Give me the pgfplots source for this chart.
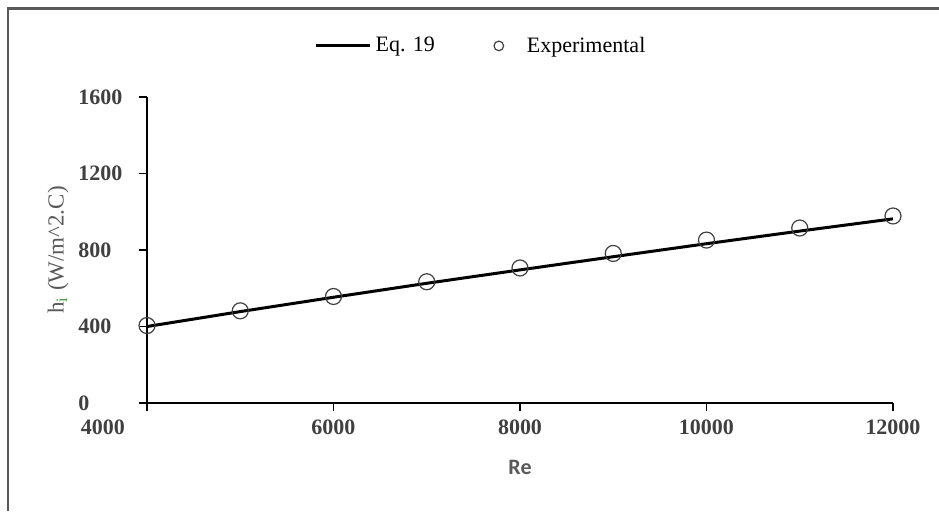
\documentclass[border=0pt]{standalone}
\usepackage{pgfplots}
\pgfplotsset{compat=1.18}
\usepackage{fontspec}
\setmainfont{Liberation Serif}
\newfontfamily\carlito{Carlito}
\definecolor{lblgray}{HTML}{595959}
\definecolor{tickgray}{HTML}{404040}
\definecolor{framegray}{HTML}{5A5A5A}
\definecolor{subgreen}{HTML}{3A9A3A}
\pgfplotsset{
    lineleg/.style={legend image code/.code={\draw[##1] (0pt,0pt) -- (27pt,0pt);}},
    markleg/.style={legend image code/.code={\path[draw=none, fill=none] (0pt,0pt) -- (18pt,0pt);
        \draw[##1, mark size=2.4pt] plot coordinates {(6pt,0pt)};}},
}
\tikzset{
    ylab/.style={anchor=west, inner sep=0pt, xshift=-34.5pt,
        font=\fontsize{11}{12}\selectfont\bfseries, text=tickgray},
}

\begin{document}
\begin{tikzpicture}
% 1 px of the reference = 0.5pt
\useasboundingbox (0,0) rectangle (469.5pt,-255.5pt);
\draw[framegray, line width=1.2pt] (4pt,-255.5pt) -- (4pt,-4.2pt) -- (469.5pt,-4.2pt);
\begin{axis}[
    at={(73.5pt,-201.5pt)}, anchor=south west,
    scale only axis, width=373pt, height=153pt,
    xmin=4000, xmax=12000, ymin=0, ymax=1600,
    axis lines=left,
    axis line style={-, black, line width=0.7pt},
    tick align=outside, tick style={black, line width=0.6pt},
    major tick length=4pt,
    scaled x ticks=false, scaled y ticks=false,
    xtick={4000,6000,8000,10000,12000},
    xticklabels={\makebox[0pt][r]{4000\hspace{11pt}},6000,8000,10000,12000},
    ytick={0,400,800,1200,1600},
    yticklabels={},
    ticklabel style={font=\fontsize{11}{12}\selectfont\bfseries, text=tickgray},
    xticklabel style={yshift=-1pt},
    /pgf/number format/assume math mode=true,
    /pgf/number format/1000 sep={},
    xlabel={\carlito\bfseries Re},
    xlabel style={font=\fontsize{11}{12}\selectfont, text=lblgray, yshift=-6pt},
    legend style={at={(0.449,1.167)}, anchor=center, draw=none, fill=none,
        legend columns=2, font=\fontsize{11}{12}\selectfont,
        /tikz/every even column/.append style={column sep=24pt}},
    legend cell align=left,
    clip=false,
]
\addplot[black, line width=1.5pt, lineleg] coordinates {
    (4000,400) (5000,478) (6000,553) (7000,626) (8000,696)
    (9000,765) (10000,833) (11000,899) (12000,963)};
\addlegendentry{Eq. 19}
\addplot[only marks, mark=o, mark size=4pt, tickgray, mark options={line width=0.6pt}, markleg] coordinates {
    (4000,405) (5000,482) (6000,557) (7000,634) (8000,706)
    (9000,782) (10000,852) (11000,915) (12000,978)};
\addlegendentry{Experimental}
% y tick labels, left-aligned as in the reference
\node[ylab] at (axis cs:4000,0) {0};
\node[ylab] at (axis cs:4000,400) {400};
\node[ylab] at (axis cs:4000,800) {800};
\node[ylab] at (axis cs:4000,1200) {1200};
\node[ylab] at (axis cs:4000,1600) {1600};
\node[rotate=90, anchor=center, yshift=44.5pt, font=\fontsize{11.5}{13}\selectfont, text=lblgray]
    at (rel axis cs:0,0.5) {h\textsubscript{\textcolor{subgreen}{i}} (W/m\textasciicircum 2.C)};
\end{axis}
\end{tikzpicture}
\end{document}
